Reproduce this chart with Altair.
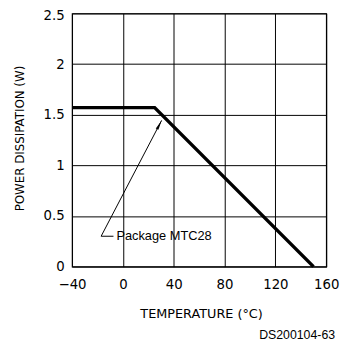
import altair as alt
import pandas as pd

# Derating curve
temps = [-40, 25, 150]
power = [1.57, 1.57, 0.0]

# Annotation arrow (tail -> tip) and label
arrow_x = [-17.1, 30.5]
arrow_y = [0.30, 1.444]
stub_x = [-17.1, -7.4]
stub_y = [0.30, 0.30]
label_x = [-5.1]
label_y = [0.30]
label_text = ["Package MTC28"]

x_ticks = [-40, 0, 40, 80, 120, 160]
y_ticks = [0, 0.5, 1, 1.5, 2, 2.5]

curve = pd.DataFrame({"t": temps, "p": power})
arrow = pd.DataFrame({"t": arrow_x, "p": arrow_y, "o": [0, 1]})
stub = pd.DataFrame({"t": stub_x, "p": stub_y, "o": [0, 1]})
tip = pd.DataFrame({"t": [arrow_x[1]], "p": [arrow_y[1]]})
lab = pd.DataFrame({"t": label_x, "p": label_y, "txt": label_text})

xs = alt.Scale(domain=[-40, 160], nice=False)
ys = alt.Scale(domain=[0, 2.5], nice=False)

xax = alt.Axis(values=x_ticks, format="d", title="TEMPERATURE (°C)",
               labelPadding=11, labelFlush=False, titleX=131, titleY=52,
               titleBaseline="alphabetic", titleFontSize=13)
yax = alt.Axis(values=y_ticks, format=".1~f", title="POWER DISSIPATION (W)",
               labelPadding=8, labelFlush=False, titleX=-49.5, titleY=126.5,
               titleBaseline="alphabetic", titleFontSize=12,
               labelOffset={"condition": {"test": "datum.value == 2.5", "value": 2},
                            "value": 0})

base = alt.Chart(curve).mark_line(color="black", strokeWidth=3.5).encode(
    x=alt.X("t:Q", scale=xs, axis=xax),
    y=alt.Y("p:Q", scale=ys, axis=yax),
)

arrow_line = alt.Chart(arrow).mark_line(color="black", strokeWidth=1).encode(
    x=alt.X("t:Q", scale=xs), y=alt.Y("p:Q", scale=ys), order="o:Q")
stub_line = alt.Chart(stub).mark_line(color="black", strokeWidth=1).encode(
    x=alt.X("t:Q", scale=xs), y=alt.Y("p:Q", scale=ys), order="o:Q")
head = alt.Chart(tip).mark_point(
    shape="M0,0 L0.3,2 L-0.3,2 Z", filled=True, color="black",
    size=100, angle=27.5, opacity=1, strokeWidth=0).encode(
    x=alt.X("t:Q", scale=xs), y=alt.Y("p:Q", scale=ys))
label = alt.Chart(lab).mark_text(
    align="left", baseline="middle", font="Liberation Sans", fontSize=13,
    color="black").encode(
    x=alt.X("t:Q", scale=xs), y=alt.Y("p:Q", scale=ys), text="txt:N")

chart = alt.layer(base, arrow_line, stub_line, head, label).properties(
    width=258, height=257,
    autosize=alt.AutoSizeParams(type="none"),
    padding={"left": 65, "top": 3, "right": 14, "bottom": 75},
    title=alt.TitleParams("DS200104-63", orient="bottom", anchor="end",
                          frame="group", dx=9, font="Liberation Sans",
                          fontSize=12.5, fontWeight="normal", color="black",
                          offset=8),
).configure_view(stroke="black", strokeWidth=1.2).configure_axis(
    grid=True, gridColor="black", gridOpacity=1, gridWidth=1,
    domain=False, ticks=False,
    labelFont="DejaVu Sans", labelFontSize=13.5, labelColor="black",
    titleFont="DejaVu Sans", titleFontWeight="normal", titleColor="black",
)

chart.save("out.html", embed_options={"renderer": "svg", "actions": False})
